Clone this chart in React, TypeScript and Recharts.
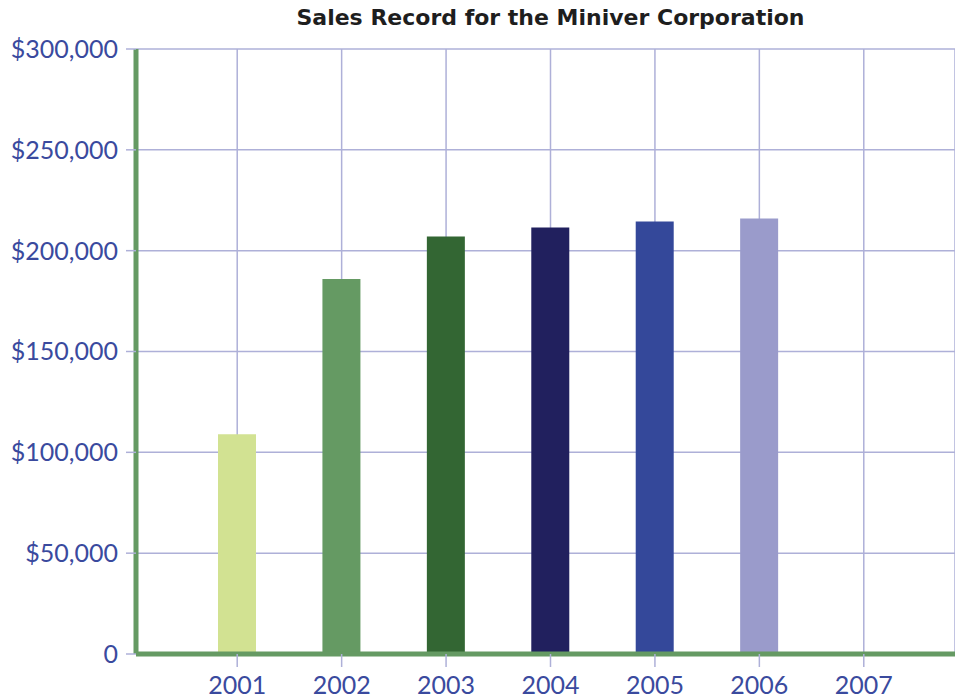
import { BarChart, Bar, XAxis, YAxis, CartesianGrid, Cell } from "recharts";

const years = ["2001", "2002", "2003", "2004", "2005", "2006", "2007"];
const sales = [109000, 186000, 207000, 211500, 214500, 216000, null];
const barColors = ["#d2e292", "#659a63", "#336633", "#21205e", "#34489a", "#9a9bcb", "#9a9bcb"];
const yTicks = [0, 50000, 100000, 150000, 200000, 250000, 300000];

const data = years.map((year, i) => ({ year, sales: sales[i] }));

const FONT = "Lato, 'Open Sans', sans-serif";
const GRID = "#aeb0d8";
const GREEN = "#659a63";
const LABEL = "#3a4a9e";

export default function App() {
  return (
    <div style={{ position: "absolute", left: 0, top: 0, width: 955, height: 700, background: "#fff" }}>
      <div
        style={{
          position: "absolute",
          top: 4,
          left: 146,
          width: 809,
          textAlign: "center",
          fontFamily: "'DejaVu Sans', sans-serif",
          fontWeight: 700,
          fontSize: 22,
          lineHeight: "28px",
          color: "#1e1e1e",
        }}
      >
        Sales Record for the Miniver Corporation
      </div>
      <BarChart width={955} height={700} data={data} margin={{ top: 49, right: 0, left: 0, bottom: 0 }}>
        <CartesianGrid stroke={GRID} strokeWidth={1.5} />
        <XAxis
          dataKey="year"
          height={46}
          padding={{ left: 49, right: 39 }}
          axisLine={{ stroke: GREEN, strokeWidth: 5 }}
          tickLine={{ stroke: GRID, strokeWidth: 1.5 }}
          tickSize={13}
          tickMargin={9}
          tick={{ fill: LABEL, fontSize: 25, fontFamily: FONT }}
        />
        <YAxis
          width={136}
          domain={[0, 300000]}
          ticks={yTicks}
          interval={0}
          axisLine={{ stroke: GREEN, strokeWidth: 5 }}
          tickLine={{ stroke: GRID, strokeWidth: 1.5 }}
          tickSize={10}
          tickMargin={8}
          tick={{ fill: LABEL, fontSize: 25, fontFamily: FONT }}
          tickFormatter={(v: number) => (v === 0 ? "0" : "$" + v.toLocaleString("en-US"))}
        />
        <Bar dataKey="sales" barSize={38} isAnimationActive={false}>
          {data.map((d, i) => (
            <Cell key={d.year} fill={barColors[i]} />
          ))}
        </Bar>
      </BarChart>
    </div>
  );
}
